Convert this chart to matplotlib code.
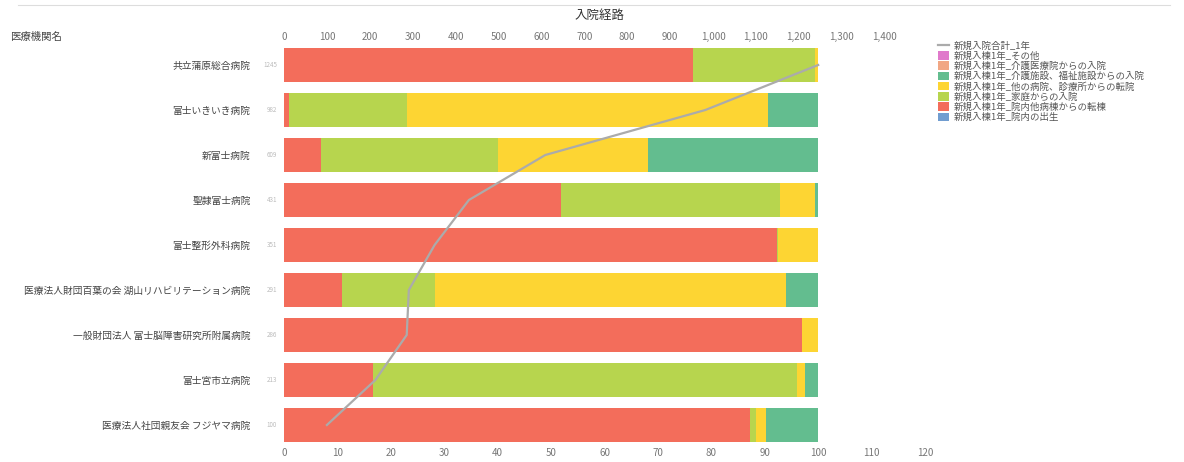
import matplotlib
matplotlib.use("Agg")
import matplotlib.pyplot as plt
from matplotlib.patches import Patch
from matplotlib.lines import Line2D
from matplotlib.ticker import FuncFormatter, MultipleLocator

plt.rcParams['font.family'] = ['Noto Sans CJK JP', 'DejaVu Sans']

hospitals = [
    "共立蒲原総合病院",
    "富士いきいき病院",
    "新富士病院",
    "聖隷富士病院",
    "富士整形外科病院",
    "医療法人財団百葉の会 湖山リハビリテーション病院",
    "一般財団法人 富士脳障害研究所附属病院",
    "富士宮市立病院",
    "医療法人社団親友会 フジヤマ病院",
]
totals = [1245, 982, 609, 431, 351, 291, 286, 213, 100]

# percentage shares (stack order left -> right)
transfer_internal = [76.6, 1.0, 7.0, 51.9, 92.3, 10.9, 97.0, 16.7, 87.3]
from_home = [22.8, 22.0, 33.0, 41.0, 0.2, 17.4, 0.0, 79.3, 1.0]
other_hospital = [0.6, 67.6, 28.2, 6.5, 7.5, 65.7, 3.0, 1.6, 2.0]
care_facility = [0.0, 9.4, 31.8, 0.6, 0.0, 6.0, 0.0, 2.4, 9.7]
care_medical = [0, 0, 0, 0, 0, 0, 0, 0, 0]
others = [0, 0, 0, 0, 0, 0, 0, 0, 0]
birth = [0, 0, 0, 0, 0, 0, 0, 0, 0]

series = [
    ("新規入棟1年_院内他病棟からの転棟", transfer_internal, "#F36D5B"),
    ("新規入棟1年_家庭からの入院", from_home, "#B7D54E"),
    ("新規入棟1年_他の病院、診療所からの転院", other_hospital, "#FDD533"),
    ("新規入棟1年_介護施設、福祉施設からの入院", care_facility, "#63BD8F"),
    ("新規入棟1年_介護医療院からの入院", care_medical, "#F1A784"),
    ("新規入棟1年_その他", others, "#E07ACB"),
    ("新規入棟1年_院内の出生", birth, "#719DD0"),
]
line_label = "新規入院合計_1年"

W, H = 1184, 462
fig = plt.figure(figsize=(W / 100, H / 100), dpi=100)
ax = fig.add_axes([284 / W, 1 - 447.5 / H, (925 - 284) / W, 405 / H])

y = list(range(len(hospitals)))
left = [0.0] * len(hospitals)
for name, vals, col in series:
    ax.barh(y, vals, left=left, height=0.76, color=col, edgecolor='none', zorder=2)
    left = [l + v for l, v in zip(left, vals)]

ax.set_xlim(0, 120)
ax.set_ylim(len(hospitals) - 0.5, -0.5)
ax.set_yticks(y)
ax.set_yticklabels(hospitals, fontsize=7, color="#444444")
ax.tick_params(axis='y', length=0, pad=24)
ax.xaxis.set_major_locator(MultipleLocator(10))
ax.tick_params(axis='x', length=0, pad=0, labelsize=7, labelcolor="#777777")
for s in ax.spines.values():
    s.set_visible(False)

for yi, t in zip(y, totals):
    ax.text(-1.3, yi, str(t), fontsize=4.5, color="#BBBBBB", ha='right', va='center')

ax2 = ax.twiny()
ax2.set_xlim(0, 120 * max(totals) / 100)
ax2.plot(totals, y, color="#ABABAB", lw=1.6, zorder=5)
ax2.set_xticks(range(0, 1401, 100))
ax2.xaxis.set_major_formatter(FuncFormatter(lambda v, p: f"{int(v):,}"))
ax2.tick_params(axis='x', length=0, pad=0, labelsize=7, labelcolor="#777777")
for s in ax2.spines.values():
    s.set_visible(False)

fig.text(600 / W, 1 - 15 / H, "入院経路", fontsize=9, color="#333333", ha='center', va='center')
fig.text(10 / W, 1 - 37 / H, "医療機関名", fontsize=7.5, color="#444444", ha='left', va='center')
fig.add_artist(Line2D([18 / W, 1170 / W], [1 - 5 / H, 1 - 5 / H], color="#DDDDDD", lw=0.8))

handles = [Line2D([0], [0], color="#ABABAB", lw=1.6, label=line_label)]
legend_order = [5, 4, 3, 2, 1, 0, 6]
for i in legend_order:
    name, vals, col = series[i]
    handles.append(Patch(facecolor=col, edgecolor='none', label=name))
fig.legend(handles=handles, loc='upper left', bbox_to_anchor=(938 / W, 1 - 41 / H),
           frameon=False, fontsize=6.8, labelspacing=0.08, handlelength=1.2,
           handleheight=1.0, handletextpad=0.5, borderaxespad=0, borderpad=0,
           labelcolor="#555555")

fig.savefig("out.png", dpi=100)
